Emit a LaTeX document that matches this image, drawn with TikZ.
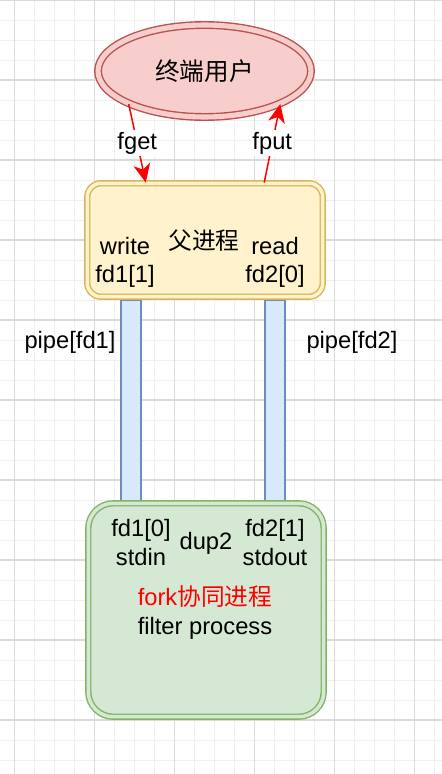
\documentclass[tikz,border=0pt]{standalone}
\usepackage{fontspec}
\setmainfont{Liberation Sans}
\newfontfamily\cjk{Noto Sans CJK SC}
\usepackage{tikz}
\usetikzlibrary{shapes.geometric,arrows.meta,calc}
\definecolor{userfill}{HTML}{F8CECC}
\definecolor{userline}{HTML}{B85450}
\definecolor{parentfill}{HTML}{FFF2CC}
\definecolor{parentline}{HTML}{D6B656}
\definecolor{pipefill}{HTML}{DAE8FC}
\definecolor{pipeline}{HTML}{6C8EBF}
\definecolor{childfill}{HTML}{D5E8D4}
\definecolor{childline}{HTML}{82B366}

\begin{document}
\begin{tikzpicture}[x=0.02cm,y=-0.02cm,line width=0.8pt,>={Stealth[length=10.5pt,width=9.5pt,inset=3pt]},
	every node/.style={font=\fontsize{13.5}{16}\selectfont},
	gridminor/.style={line width=0.5pt,draw=black!6},
	gridmajor/.style={line width=0.6pt,draw=black!14},
	pipebox/.style={draw=pipeline,fill=pipefill,minimum width=0.4cm,minimum height=4.01cm,inner sep=0pt},
	flow/.style={->,draw=red,line width=0.85pt},
	flowlabel/.style={fill=white,inner sep=1pt,midway}]
		\useasboundingbox (0,0) rectangle (442,774);
		\fill[white] (0,0) rectangle (442,774);
		\foreach \x in {14.7,34.7,...,440} \draw[gridminor] (\x,0) -- (\x,774);
		\foreach \y in {0,20,...,770} \draw[gridminor] (0,\y) -- (442,\y);
		\foreach \x in {14.7,94.7,...,440} \draw[gridmajor] (\x,0) -- (\x,774);
		\foreach \y in {0,80,...,770} \draw[gridmajor] (0,\y) -- (442,\y);
		\node[pipebox] (pipe1) at (131,400.4) {};
		\node[pipebox] (pipe2) at (275,400.4) {};
		\node[draw=userline, fill=userfill, double=userfill, double distance=2.9pt, ellipse, inner sep=0pt, minimum width=4.26cm, minimum height=1.84cm] (user) at (204.5,71) {\cjk\fontsize{14}{16}\selectfont 终端用户};
		\node[draw=parentline, fill=parentfill, double=parentfill, double distance=2pt, rounded corners=0.27cm, inner sep=0pt, minimum width=4.71cm, minimum height=2.27cm] (parent) at (205,240) {};
		\node[draw=childline, fill=childfill, double=childfill, double distance=2pt, rounded corners=0.5cm, inner sep=0pt, minimum width=4.71cm, minimum height=4.27cm] (child) at (206,610) {};
		\node (ptitle) at (204,241) {\cjk 父进程};
		\node[align=center] (pwrite) at (125,262) {write\\fd1[1]};
		\node[align=center] (pread) at (275,262) {read\\fd2[0]};
		\node[align=center] (cin) at (141,542.5) {fd1[0]\\stdin};
		\node (cdup) at (206,543) {dup2};
		\node[align=center] (cout) at (275,542.5) {fd2[1]\\stdout};
		\node[align=center] (ctitle) at (205,612.5) {\textcolor{red}{fork{\cjk 协同进程}}\\filter process};
		\node (pipe1lbl) at (70,342) {pipe[fd1]};
		\node (pipe2lbl) at (352,342) {pipe[fd2]};
		\draw[flow] (user.south west) -- ($(parent.north west)!0.25!(parent.north east)$) node[flowlabel] (fget) {fget};
		\draw[flow] ($(parent.north west)!0.75!(parent.north east)$) -- (user.south east) node[flowlabel] (fput) {fput};
	\end{tikzpicture}
\end{document}
